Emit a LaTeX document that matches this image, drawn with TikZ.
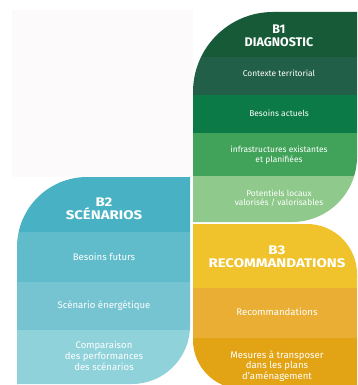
\documentclass[tikz,border=0pt]{standalone}
\usepackage{fontspec}
\setmainfont{Fira Sans}
\definecolor{gA}{HTML}{175A38}
\definecolor{gB}{HTML}{215F48}
\definecolor{gC}{HTML}{0C7A46}
\definecolor{gD}{HTML}{41A35A}
\definecolor{gE}{HTML}{8FCA8C}
\definecolor{bA}{HTML}{48B2C4}
\definecolor{bB}{HTML}{60BCCB}
\definecolor{bC}{HTML}{76C4D1}
\definecolor{bD}{HTML}{8FD2DA}
\definecolor{yA}{HTML}{F0C32C}
\definecolor{yB}{HTML}{E9AE33}
\definecolor{yC}{HTML}{E2A415}
\definecolor{pale}{HTML}{FCFAFB}
\tikzset{
  head/.style={text=white, font=\fontsize{12.5}{13.5}\selectfont\bfseries, align=center, inner sep=0pt},
  item/.style={text=white, font=\fontsize{9.6}{10.8}\selectfont, align=center, inner sep=0pt},
  itemg/.style={item, font=\fontsize{8.4}{9.6}\selectfont},
}
\newcommand{\wide}[1]{\scalebox{1.2}[1]{#1}}
\begin{document}
\begin{tikzpicture}[x=1pt,y=-1pt]
\useasboundingbox (0,0) rectangle (357,385);
\clip (0,0) rectangle (357,385);
\fill[pale] (12,10) rectangle (193,177);
% B1
\begin{scope}
\clip (193,222) -- (193,92) .. controls (193,47.8) and (228.8,12) .. (273,12) -- (357,12) -- (357,157) .. controls (357,192.9) and (327.9,222) .. (292,222) -- cycle;
\fill[gA] (190,10) rectangle (360,57);
\fill[gB] (190,57) rectangle (360,95);
\fill[gC] (190,95) rectangle (360,133);
\fill[gD] (190,133) rectangle (360,176);
\fill[gE] (190,176) rectangle (360,225);
\end{scope}
% B2
\begin{scope}
\clip (17,390) -- (17,247) .. controls (17,208.4) and (48.4,177) .. (87,177) -- (190,177) -- (190,326) .. controls (190,358) and (164,384) .. (132,384) -- (17,384) -- cycle;
\fill[bA] (15,175) rectangle (192,232);
\fill[bB] (15,232) rectangle (192,282);
\fill[bC] (15,282) rectangle (192,330);
\fill[bD] (15,330) rectangle (192,390);
\end{scope}
% B3
\begin{scope}
\clip (193,224) -- (307,224) .. controls (334.6,224) and (357,246.4) .. (357,274) -- (357,400) -- (242,389) .. controls (215,389) and (193,367) .. (193,340) -- cycle;
\fill[yA] (190,220) rectangle (360,288);
\fill[yB] (190,288) rectangle (360,338);
\fill[yC] (190,338) rectangle (360,400);
\end{scope}
% texts B1
\node[head] (t1) at (279,36) {B1\\DIAGNOSTIC};
\node[itemg] (c1) at (279,73) {Contexte territorial};
\node[itemg] (c2) at (279,113) {Besoins actuels};
\node[itemg] (c3) at (279,155) {infrastructures existantes\\et planifiées};
\node[itemg] (c4) at (279,198) {Potentiels locaux\\valorisés / valorisables};
% texts B2
\node[head] (t2) at (104,209) {\wide{B2}\\\wide{SCÉNARIOS}};
\node[item] (s1) at (104,257) {Besoins futurs};
\node[item] (s2) at (104,306) {Scénario énergétique};
\node[item] (s3) at (104,356) {Comparaison\\des performances\\des scénarios};
% texts B3
\node[head] (t3) at (277,257) {\wide{B3}\\\wide{RECOMMANDATIONS}};
\node[item] (r1) at (277,312) {Recommandations};
\node[item] (r2) at (277,366) {Mesures à transposer\\dans les plans\\d’aménagement};
\end{tikzpicture}
\end{document}
